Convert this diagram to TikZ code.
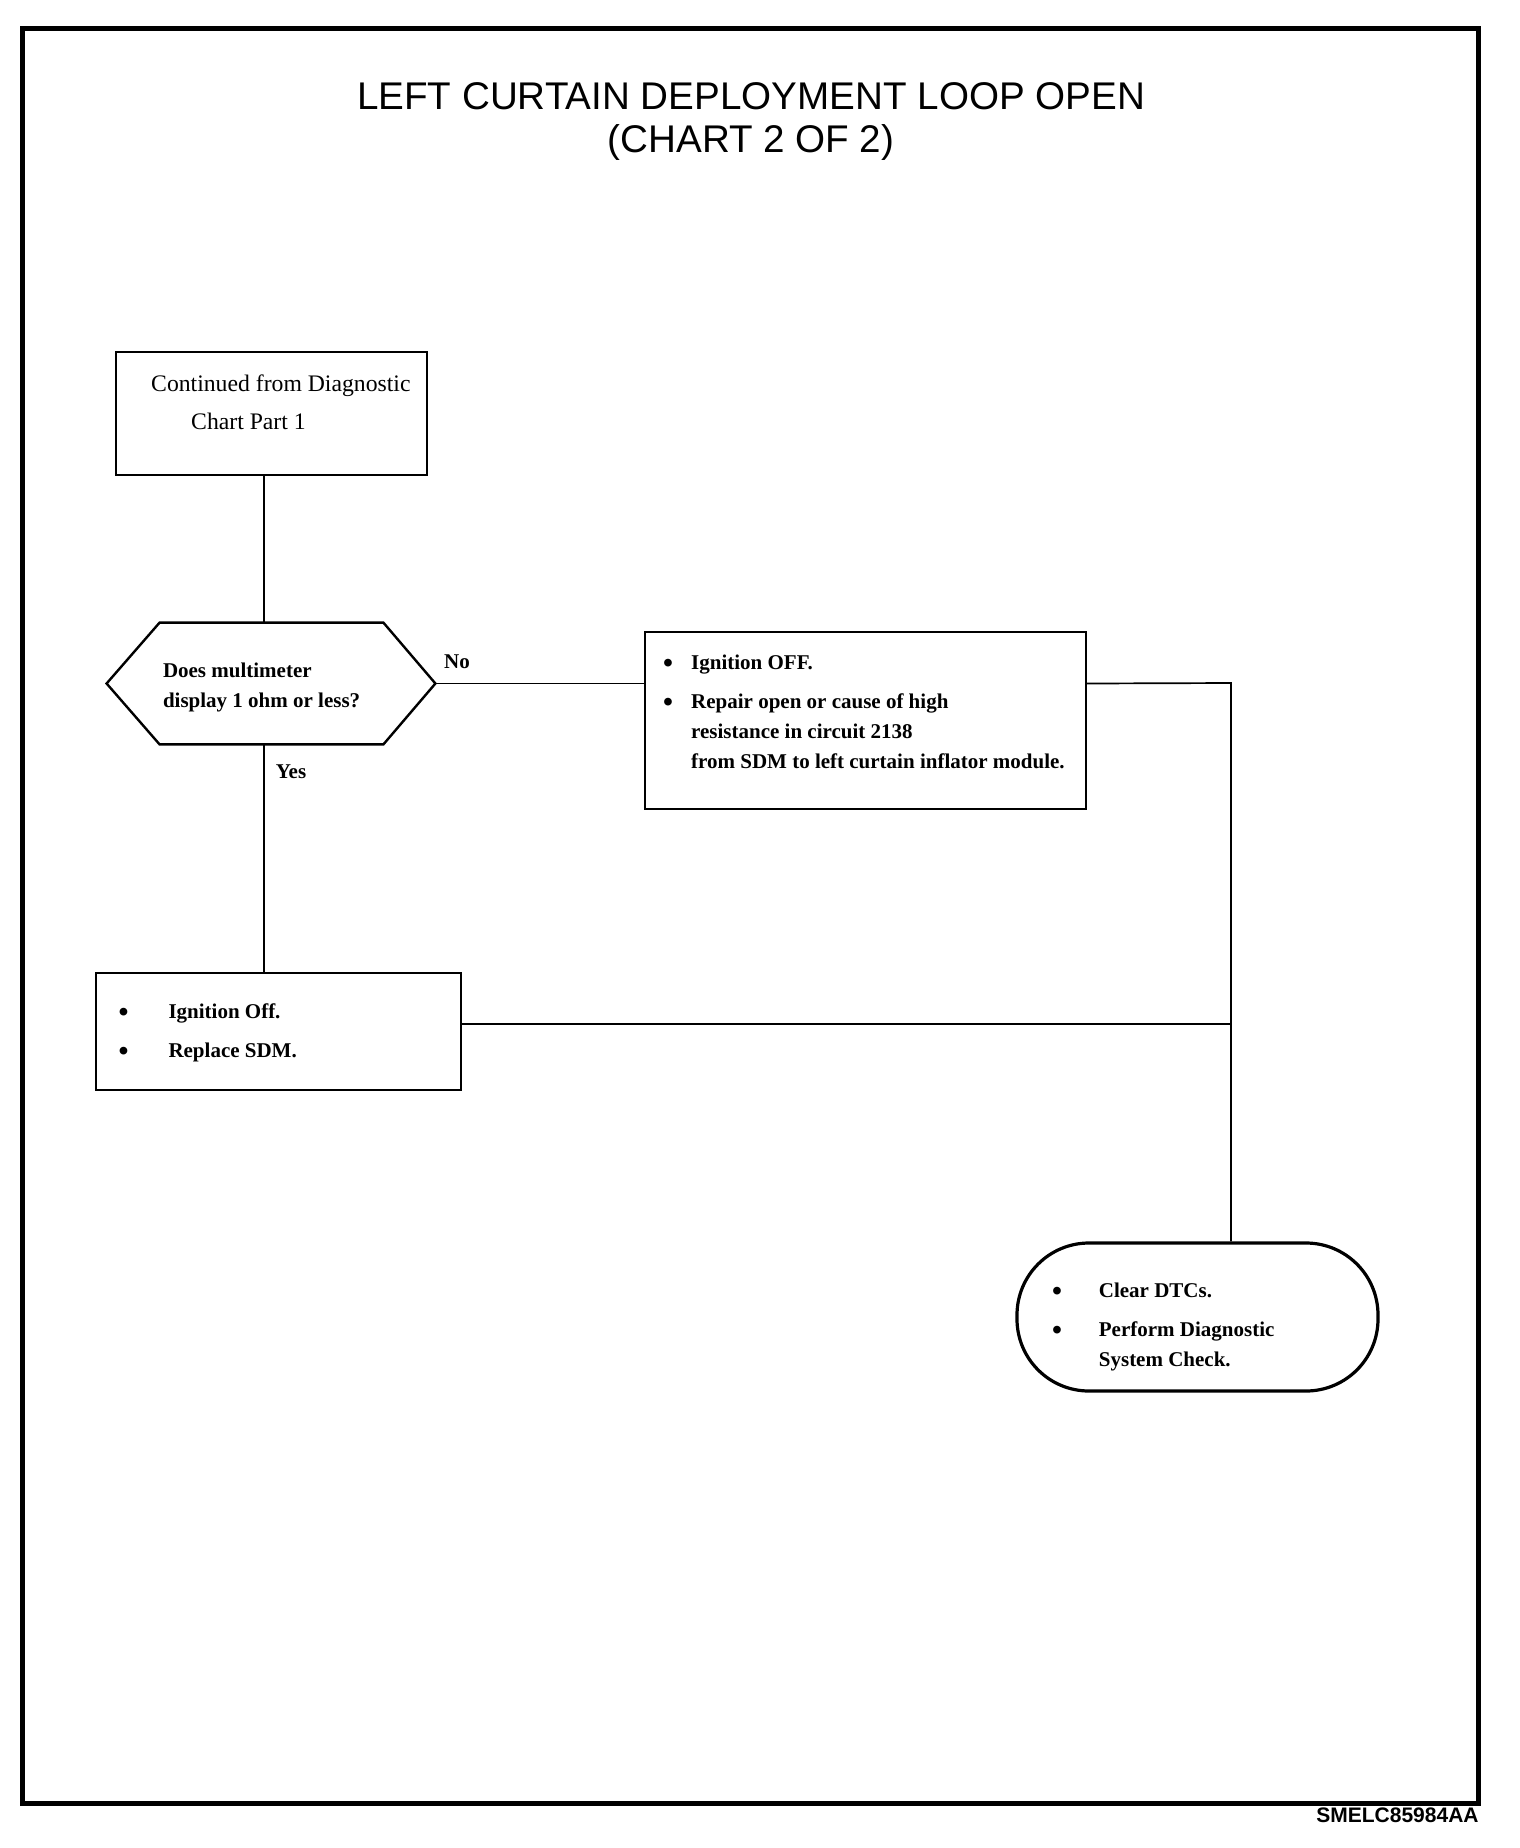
\documentclass[tikz,border=0pt]{standalone}
\usepackage{fontspec}
\usepackage{graphicx}
\setmainfont{Liberation Serif}
\newfontfamily\headfont{Liberation Sans}
\usetikzlibrary{calc}
\tikzset{
	box/.style={draw,line width=1.2pt,inner sep=0pt},
	link/.style={line width=0.85pt},
	boxtext/.style={anchor=north west,inner sep=0pt,font=\fontsize{10.5pt}{15pt}\selectfont\bfseries},
	tag/.style={inner sep=1pt,font=\fontsize{10.5pt}{14pt}\selectfont\bfseries},
}
\newcommand{\bul}{\raisebox{-1.6pt}{\scalebox{1.35}{\textbullet}}}

\begin{document}
\begin{tikzpicture}[x=0.5pt,y=-0.5pt]
	\useasboundingbox(0,0)rectangle(1520,1848);
	\draw[line width=2.5pt](22.5,28)rectangle(1478.5,1803);
	% title and figure code
	\node[anchor=north,inner sep=0pt,align=center,font=\headfont\fontsize{19.3pt}{21.5pt}\selectfont](title)at(751,82){LEFT CURTAIN DEPLOYMENT LOOP OPEN\\(CHART 2 OF 2)};
	\node[anchor=base east,inner sep=0pt,font=\headfont\bfseries\fontsize{10.5pt}{12pt}\selectfont](figcode)at(1479,1822){SMELC85984AA};
	% boxes
	\node[box,minimum width=155.5pt,minimum height=61.5pt](start)at(271.5,413.5){};
	\node[inner sep=0pt,minimum width=111.5pt,minimum height=60.5pt](q)at(271.5,683.5){};
	\coordinate(qe)at($(q.east)+(52,0)$);
	\coordinate(qw)at($(q.west)+(-53,0)$);
	\draw[line width=1.2pt](q.north west)--(q.north east)--(qe)--(q.south east)--(q.south west)--(qw)--cycle;
	\node[box,minimum width=220.5pt,minimum height=88.5pt](act1)at(865.5,720.5){};
	\node[box,minimum width=182.5pt,minimum height=58.5pt](act2)at(278.5,1031.5){};
	\node[box,line width=1.6pt,rounded corners=36pt,minimum width=180.5pt,minimum height=74pt](done)at(1197.5,1317){};
	% texts
	\node[boxtext,font=\fontsize{11.85pt}{19pt}\selectfont](starttext)at($(start.north west)+(36,14)$){\begin{tabular}{@{}l@{}}
		Continued from Diagnostic\\
		\hspace*{20pt}Chart Part 1
	\end{tabular}};
	\node[boxtext](qtext)at($(q.north west)+(3,33)$){\begin{tabular}{@{}l@{}}
		Does multimeter\\
		display 1 ohm or less?
	\end{tabular}};
	\node[boxtext](act1text)at($(act1.north west)+(19,17)$){\begin{tabular}{@{}p{14pt}@{}l@{}}
		\bul&Ignition OFF.\\[4.5pt]
		\bul&Repair open or cause of high\\
		&resistance in circuit 2138\\
		&from SDM to left curtain inflator module.
	\end{tabular}};
	\node[boxtext](act2text)at($(act2.north west)+(23.3,25)$){\begin{tabular}{@{}p{25pt}@{}l@{}}
		\bul&Ignition Off.\\[4.5pt]
		\bul&Replace SDM.
	\end{tabular}};
	\node[boxtext](donetext)at($(done.north west)+(36.3,34.4)$){\begin{tabular}{@{}p{23.4pt}@{}l@{}}
		\bul&Clear DTCs.\\[4.5pt]
		\bul&Perform Diagnostic\\
		&System Check.
	\end{tabular}};
	\node[tag](no)at(457,662){No};
	\node[tag](yes)at(291,772){Yes};
	% connectors
	\coordinate(trunk)at(264,623);
	\coordinate(bus)at(1231,683);
	\coordinate(join)at(1231,1024);
	\draw[link](start.south -| trunk)--(q.north -| trunk);
	\draw[link](q.south -| trunk)--(act2.north -| trunk);
	\draw[link](qe)--(qe -| act1.west);
	\draw[link](qe -| act1.east)--(bus)--(bus |- done.north);
	\draw[link](act2.east |- join)--(join);
\end{tikzpicture}
\end{document}
